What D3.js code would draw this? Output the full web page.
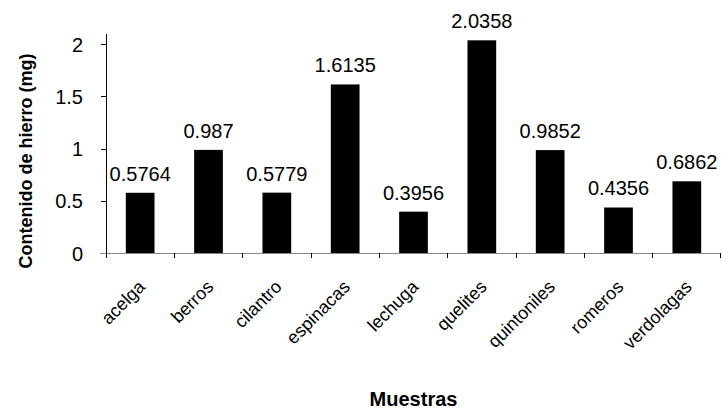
<!DOCTYPE html>
<html><head><meta charset="utf-8">
<script src="https://cdn.jsdelivr.net/npm/d3@7"></script>
<style>body{margin:0;background:#fff}svg{display:block}text{font-family:"Liberation Sans",Arial,sans-serif}</style>
</head><body><div id="chart"></div>
<script>
const categories = ["acelga","berros","cilantro","espinacas","lechuga","quelites","quintoniles","romeros","verdolagas"];
const values = [0.5764,0.987,0.5779,1.6135,0.3956,2.0358,0.9852,0.4356,0.6862];
const valueLabels = ["0.5764","0.987","0.5779","1.6135","0.3956","2.0358","0.9852","0.4356","0.6862"];
const yTicks = [0,0.5,1,1.5,2];
const yTickLabels = ["0","0.5","1","1.5","2"];

const W=722,H=411;
const m={left:106,right:1,top:33,bottom:158};
const svg=d3.select("#chart").append("svg").attr("width",W).attr("height",H);
const x=d3.scaleBand().domain(categories).range([m.left,W-m.right]).paddingInner(0.58).paddingOuter(0.29);
const xb=d3.scaleBand().domain(categories).range([m.left,W-m.right]);
const y=d3.scaleLinear().domain([0,2.106]).range([H-m.bottom,m.top]);
const y0=y(0);

svg.selectAll("rect.bar").data(values).join("rect").attr("class","bar")
 .attr("x",(d,i)=>x(categories[i])).attr("width",x.bandwidth())
 .attr("y",d=>y(d)).attr("height",d=>y0-y(d)).attr("fill","#000");

svg.selectAll("text.vl").data(values).join("text").attr("class","vl")
 .attr("x",(d,i)=>x(categories[i])+x.bandwidth()/2).attr("y",d=>y(d)-12)
 .attr("text-anchor","middle").attr("font-size",20).text((d,i)=>valueLabels[i]);

// x axis (gray baseline)
const xa=svg.append("g").attr("transform",`translate(0,${y0})`);
xa.append("line").attr("x1",m.left-6).attr("x2",W-m.right).attr("y1",0.5).attr("y2",0.5).attr("stroke","#868686");
const edges=categories.map(c=>xb(c)).concat([W-m.right]);
xa.selectAll("line.tk").data(edges).join("line").attr("class","tk")
 .attr("x1",d=>Math.min(d,W-1.5)).attr("x2",d=>Math.min(d,W-1.5)).attr("y1",0).attr("y2",5).attr("stroke","#000").attr("shape-rendering","crispEdges");
xa.selectAll("text.xl").data(categories).join("text").attr("class","xl")
 .attr("transform",d=>`translate(${xb(d)+xb.bandwidth()/2+6},${35}) rotate(-45)`)
 .attr("text-anchor","end").attr("font-size",18).text(d=>d);

// y axis
const ya=svg.append("g").attr("transform",`translate(${m.left},0)`)
 .call(d3.axisLeft(y).tickValues(yTicks).tickFormat((d,i)=>yTickLabels[i]).tickSize(5).tickSizeOuter(0).tickPadding(18));
ya.select(".domain").attr("stroke","#000").attr("shape-rendering","crispEdges");
ya.selectAll(".tick line").attr("stroke",d=>d===0?"#868686":"#000").attr("shape-rendering","crispEdges");
ya.selectAll(".tick text").attr("font-size",20).attr("fill","#000").attr("font-family","Liberation Sans, Arial").attr("dy","0.36em");

svg.append("text").attr("transform",`translate(32,${161}) rotate(-90)`)
 .attr("text-anchor","middle").attr("font-size",18).attr("font-weight","bold").text("Contenido de hierro (mg)");
svg.append("text").attr("x",(m.left+W-m.right)/2).attr("y",406)
 .attr("text-anchor","middle").attr("font-size",20).attr("font-weight","bold").text("Muestras");
</script></body></html>
